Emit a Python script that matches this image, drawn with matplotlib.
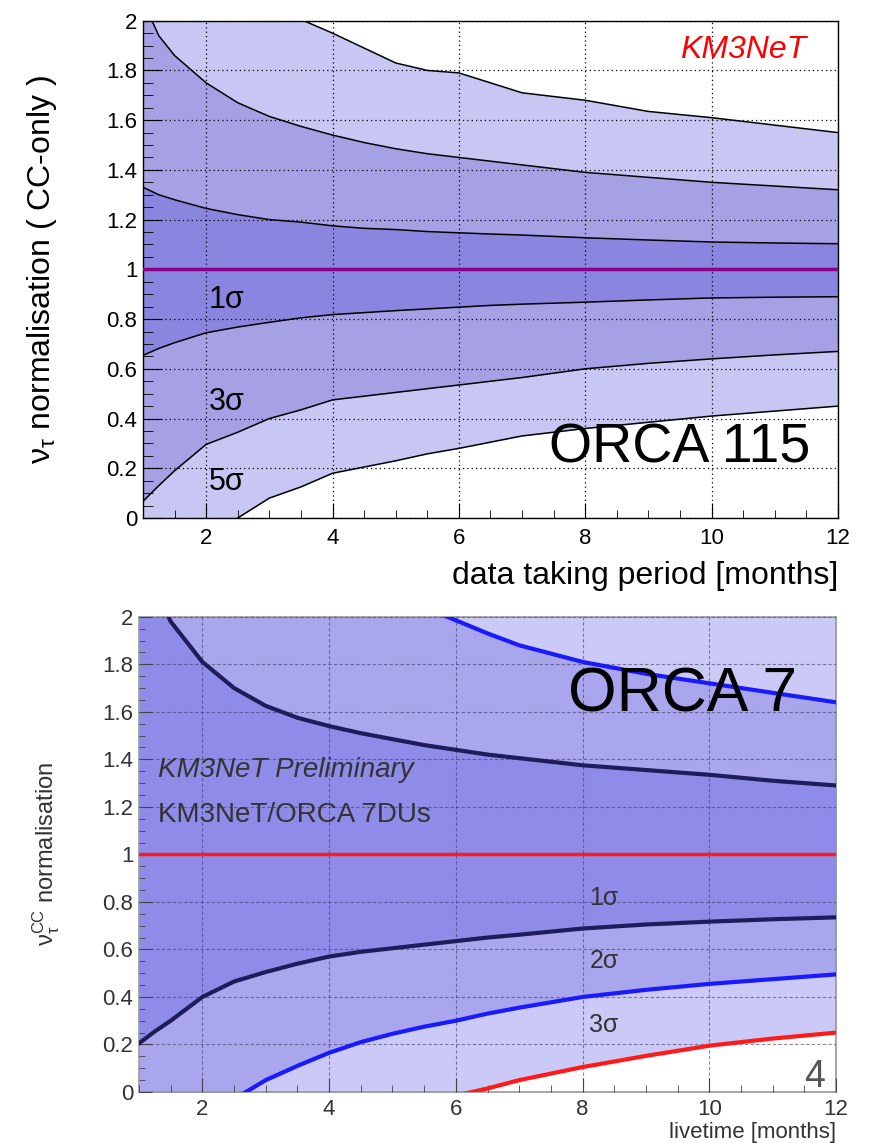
import matplotlib
matplotlib.use('Agg')
import matplotlib.pyplot as plt
from matplotlib.ticker import MultipleLocator, FuncFormatter

# Helvetica-like fonts, ROOT look
plt.rcParams['font.family'] = ['Liberation Sans', 'DejaVu Sans']
plt.rcParams['mathtext.fontset'] = 'custom'
plt.rcParams['mathtext.rm'] = 'Liberation Sans'
plt.rcParams['mathtext.it'] = 'Liberation Sans:italic'
plt.rcParams['mathtext.bf'] = 'Liberation Sans:bold'

# ---- data ----
months = [1, 1.25, 1.5, 2, 2.5, 3, 3.5, 4, 4.5, 5, 5.5, 6, 6.5, 7, 8, 9, 10, 11, 12]

# ORCA 115 (top): band edges of nu_tau normalisation
o115_5s_up = [2.6, 2.52, 2.45, 2.3, 2.18, 2.08, 2.005, 1.95, 1.89, 1.83, 1.80, 1.79, 1.75, 1.71, 1.68, 1.635, 1.61, 1.58, 1.55]
o115_3s_up = [2.08, 1.94, 1.86, 1.75, 1.67, 1.615, 1.575, 1.54, 1.51, 1.485, 1.465, 1.45, 1.435, 1.42, 1.39, 1.37, 1.35, 1.335, 1.32]
o115_1s_up = [1.33, 1.30, 1.28, 1.245, 1.22, 1.20, 1.19, 1.175, 1.165, 1.16, 1.152, 1.147, 1.142, 1.138, 1.127, 1.118, 1.11, 1.106, 1.103]
o115_1s_lo = [0.654, 0.682, 0.705, 0.745, 0.768, 0.787, 0.805, 0.818, 0.826, 0.834, 0.841, 0.848, 0.855, 0.86, 0.868, 0.877, 0.885, 0.888, 0.89]
o115_3s_lo = [0.067, 0.13, 0.19, 0.296, 0.345, 0.40, 0.435, 0.475, 0.49, 0.505, 0.52, 0.535, 0.55, 0.565, 0.60, 0.622, 0.64, 0.656, 0.67]
o115_5s_lo = [-0.25, -0.21, -0.17, -0.08, 0.0, 0.08, 0.125, 0.18, 0.205, 0.23, 0.258, 0.28, 0.305, 0.33, 0.36, 0.385, 0.41, 0.43, 0.45]

# ORCA 7 (bottom)
o7_1s_up = [2.3, 2.12, 1.98, 1.81, 1.70, 1.625, 1.575, 1.54, 1.51, 1.485, 1.46, 1.44, 1.42, 1.405, 1.375, 1.355, 1.335, 1.31, 1.29]
o7_2s_up = [3.2, 3.1, 3.0, 2.8, 2.6, 2.45, 2.35, 2.25, 2.17, 2.1, 2.04, 1.985, 1.93, 1.88, 1.81, 1.76, 1.72, 1.68, 1.64]
o7_1s_lo = [0.205, 0.255, 0.30, 0.40, 0.465, 0.505, 0.54, 0.57, 0.59, 0.605, 0.62, 0.635, 0.65, 0.662, 0.688, 0.705, 0.717, 0.727, 0.735]
o7_2s_lo = [-0.35, -0.28, -0.22, -0.11, -0.03, 0.05, 0.11, 0.165, 0.21, 0.245, 0.275, 0.30, 0.33, 0.355, 0.40, 0.43, 0.455, 0.475, 0.495]
o7_3s_lo = [-0.6, -0.55, -0.5, -0.42, -0.35, -0.28, -0.22, -0.17, -0.12, -0.08, -0.045, -0.015, 0.015, 0.05, 0.105, 0.152, 0.195, 0.225, 0.25]

fig = plt.figure(figsize=(8.77, 11.43), dpi=100)
fmt = FuncFormatter(lambda v, p: '%g' % v)


def style_axes(ax, tick_size, tick_color, xlen, ylen, xpad=7):
    ax.set_xlim(1, 12)
    ax.set_ylim(0, 2)
    ax.xaxis.set_major_locator(MultipleLocator(2))
    ax.xaxis.set_minor_locator(MultipleLocator(0.5))
    ax.yaxis.set_major_locator(MultipleLocator(0.2))
    ax.yaxis.set_minor_locator(MultipleLocator(0.05))
    ax.xaxis.set_major_formatter(fmt)
    ax.yaxis.set_major_formatter(fmt)
    ax.tick_params(which='both', direction='in', top=False, right=False,
                   labelsize=tick_size, labelcolor=tick_color)
    ax.tick_params(axis='x', which='major', length=xlen, pad=xpad)
    ax.tick_params(axis='x', which='minor', length=xlen * 0.5)
    ax.tick_params(axis='y', which='major', length=ylen, pad=4)
    ax.tick_params(axis='y', which='minor', length=ylen * 0.5)
    ax.set_axisbelow(False)


# ---------------- top panel: ORCA 115 ----------------
ax1 = fig.add_axes([0.163, 0.5468, 0.7925, 0.4351])
c_in, c_mid, c_out = '#8a86df', '#a5a1e4', '#c8c6f3'
ax1.fill_between(months, o115_5s_lo, o115_5s_up, color=c_out, lw=0, zorder=1)
ax1.fill_between(months, o115_3s_lo, o115_3s_up, color=c_mid, lw=0, zorder=1.1)
ax1.fill_between(months, o115_1s_lo, o115_1s_up, color=c_in, lw=0, zorder=1.2)
for curve in [o115_5s_up, o115_3s_up, o115_1s_up, o115_1s_lo, o115_3s_lo, o115_5s_lo]:
    ax1.plot(months, curve, color='black', lw=1.1, zorder=3)
ax1.axhline(1, color='#8b008b', lw=2.5, zorder=3)

style_axes(ax1, 16, 'black', 11, 14)
ax1.grid(True, which='major', color='black', ls=(0, (1, 2.5)), lw=0.9)
for s in ax1.spines.values():
    s.set_linewidth(1.0)
    s.set_color('black')

ax1.set_ylabel(r'$\mathrm{\nu}_{\mathrm{\tau}}$ normalisation ( CC-only )', fontsize=23)
ax1.yaxis.set_label_coords(-0.121, 0.5)
ax1.set_xlabel('data taking period [months]', fontsize=23, loc='right')
ax1.xaxis.label.set_va('center')
ax1.xaxis.set_label_coords(1.0, -0.117)

ax1.text(11.5, 1.882, 'KM3NeT', color='red', fontsize=23, style='italic',
         ha='right', va='center')
for lab, yv in [('1σ', 0.878), ('3σ', 0.465), ('5σ', 0.144)]:
    ax1.text(2.33, yv, lab, fontsize=22, ha='center', va='center', zorder=5)
ax1.text(9.5, 0.224, 'ORCA 115', fontsize=40, ha='center', va='baseline', zorder=6)

# ---------------- bottom panel: ORCA 7 ----------------
ax2 = fig.add_axes([0.1585, 0.0446, 0.7948, 0.4158])
b_in, b_mid, b_out = '#8f8be8', '#a9a6ee', '#cbc9f6'
ax2.fill_between(months, o7_3s_lo, 2.0, color=b_out, lw=0, zorder=1)
ax2.fill_between(months, o7_2s_lo, o7_2s_up, color=b_mid, lw=0, zorder=1.1)
ax2.fill_between(months, o7_1s_lo, o7_1s_up, color=b_in, lw=0, zorder=1.2)
ax2.plot(months, o7_1s_up, color='#1e1c5a', lw=3, zorder=3)
ax2.plot(months, o7_1s_lo, color='#1e1c5a', lw=3, zorder=3)
ax2.plot(months, o7_2s_up, color='#1a1aff', lw=3, zorder=3)
ax2.plot(months, o7_2s_lo, color='#1a1aff', lw=3, zorder=3)
ax2.plot(months, o7_3s_lo, color='#ff1a1a', lw=3, zorder=3)
ax2.axhline(1, color='#ff1a1a', lw=2.5, zorder=3)

style_axes(ax2, 16, '#333333', 10, 9, xpad=5)
ax2.tick_params(which='both', color='#444444')
ax2.grid(True, which='major', color='#3a3a60', ls=(0, (3, 2)), lw=0.8, alpha=0.6)
for s in ax2.spines.values():
    s.set_linewidth(1.2)
    s.set_color('#999999')

ax2.set_ylabel(r'$\mathrm{\nu}_{\mathrm{\tau}}^{\mathrm{CC}}$ normalisation', fontsize=17, color='#333333')
ax2.yaxis.set_label_coords(-0.110, 0.5)
ax2.set_xlabel('livetime [months]', fontsize=16, loc='right', color='#333333')
ax2.xaxis.label.set_va('baseline')
ax2.xaxis.set_label_coords(1.0, -0.0968)

ax2.text(1.30, 1.355, 'KM3NeT Preliminary', fontsize=20, style='italic',
         color='#333333', ha='left', va='center', zorder=5)
ax2.text(1.30, 1.166, 'KM3NeT/ORCA 7DUs', fontsize=20,
         color='#333333', ha='left', va='center', zorder=5)
for lab, yv in [('1σ', 0.815), ('2σ', 0.55), ('3σ', 0.28)]:
    ax2.text(8.34, yv, lab, fontsize=18, color='#333333', ha='center', va='center', zorder=5)
ax2.text(11.82, 0.02, '4', fontsize=27, color='#555555', ha='right', va='baseline', zorder=5)
ax2.text(9.58, 1.60, 'ORCA 7', fontsize=45, ha='center', va='baseline', zorder=6)

fig.savefig('out.png', dpi=100)
